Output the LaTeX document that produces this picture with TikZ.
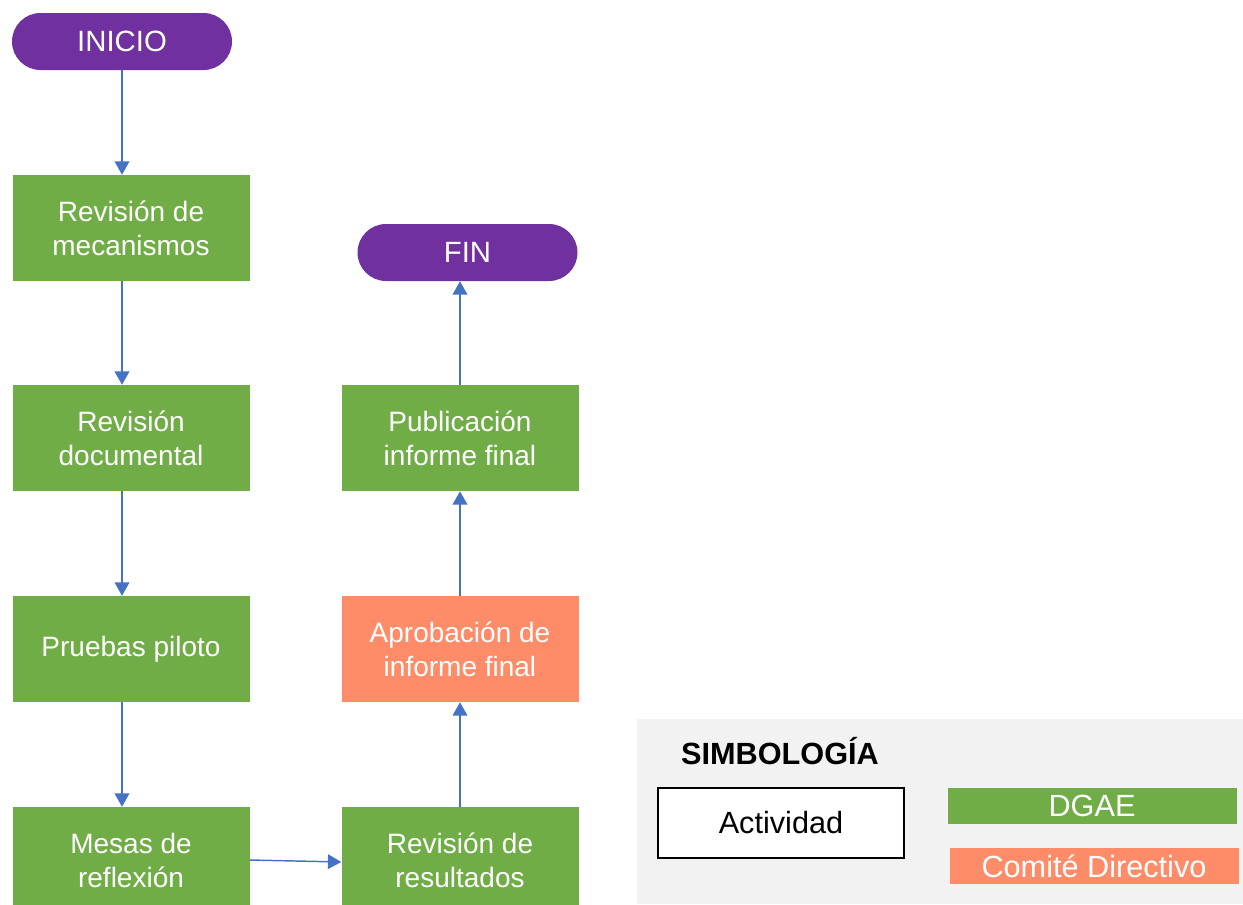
\documentclass[tikz,border=0pt]{standalone}
\usepackage{fontspec}
\setmainfont{Liberation Sans}
\usetikzlibrary{arrows.meta,shapes.misc}
\definecolor{cgreen}{HTML}{70AD47}
\definecolor{cpurple}{HTML}{7030A0}
\definecolor{csalmon}{HTML}{FF8C69}
\definecolor{cblue}{HTML}{4472C4}
\definecolor{cgray}{HTML}{F2F2F2}
\tikzset{
  px/.style={x=0.75pt,y=-0.75pt},
  txt/.style={font=\fontsize{21}{25.5}\selectfont, align=center, inner sep=0pt},
  legtxt/.style={txt, font=\fontsize{23}{27}\selectfont},
  term/.style={txt, font=\fontsize{22}{26}\selectfont, rounded rectangle, fill=cpurple, text=white, minimum width=220*0.75pt, minimum height=57*0.75pt},
  act/.style={txt, rectangle, fill=cgreen, text=white, minimum width=237*0.75pt, minimum height=106*0.75pt},
  actc/.style={act, fill=csalmon},
  flow/.style={cblue, line width=1.1pt, -{Triangle[width=11pt,length=10pt]}},
  legbar/.style={legtxt, rectangle, text=white, minimum width=289*0.75pt, minimum height=36*0.75pt},
}
\begin{document}
\begin{tikzpicture}[px]
\useasboundingbox (0,0) rectangle (1243,904);
% legend background
\fill[cgray] (637,719) rectangle (1243,904);
\node[legtxt, font=\fontsize{23}{27}\selectfont\bfseries] (simb) at (780,751) {SIMBOLOGÍA};
\node[legtxt, draw=black, line width=1.5pt, fill=white, minimum width=246*0.75pt, minimum height=70*0.75pt] (leg1) at (781,822.5) {Actividad};
\node[legbar, fill=cgreen] (leg2) at (1092,806) {DGAE};
\node[legbar, fill=csalmon] (leg3) at (1094,866) {Comité Directivo};
% flow nodes
\node[term] (ini) at (122,41.5) {INICIO};
\node[act] (n1) at (131,228) {Revisión de\\mecanismos};
\node[act] (n2) at (131,438) {Revisión\\documental};
\node[act] (n3) at (131,649) {Pruebas piloto};
\node[act] (n4) at (131,860) {Mesas de\\reflexión};
\node[act] (n5) at (460,860) {Revisión de\\resultados};
\node[actc] (n6) at (460,649) {Aprobación de\\informe final};
\node[act] (n7) at (460,438) {Publicación\\informe final};
\node[term] (fin) at (467.5,252.5) {FIN};
% connectors
\draw[flow] (ini.south -| n1.north) ++(-9,0) coordinate (a0) -- (a0 |- n1.north);
\draw[flow] ([xshift=-9*0.75pt]n1.south) -- ([xshift=-9*0.75pt]n2.north);
\draw[flow] ([xshift=-9*0.75pt]n2.south) -- ([xshift=-9*0.75pt]n3.north);
\draw[flow] ([xshift=-9*0.75pt]n3.south) -- ([xshift=-9*0.75pt]n4.north);
\draw[flow] (n4.east) -- ([yshift=-2*0.75pt]n5.west);
\draw[flow] (n5.north) -- (n6.north |- n6.south);
\draw[flow] (n6.north) -- (n6.north |- n7.south);
\draw[flow] (n6.north |- n7.north) -- (n6.north |- fin.south);
\end{tikzpicture}
\end{document}
